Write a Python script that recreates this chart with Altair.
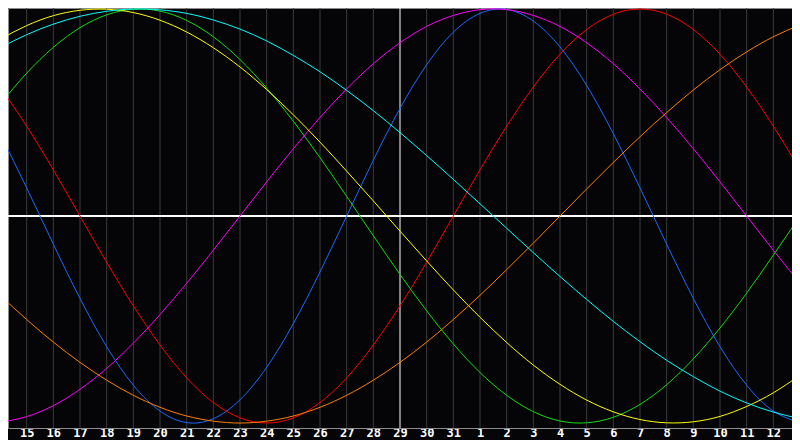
import altair as alt
import pandas as pd

# day index across the window (0 = left edge, 30 = right edge)
days = list(range(31))

# tick labels shown at day index 1..29
tick_labels = ["15", "16", "17", "18", "19", "20", "21", "22", "23", "24",
               "25", "26", "27", "28", "29", "30", "31", "1", "2", "3",
               "4", "5", "6", "7", "8", "9", "10", "11", "12"]

# cycle values (percent, -100..100), one per day index
physical = [39.8, 13.6, -13.6, -39.8, -63.1, -81.7, -94.2, -99.8, -97.9, -88.8,
            -73.1, -52.0, -27.0, 0.0, 27.0, 52.0, 73.1, 88.8, 97.9, 99.8,
            94.2, 81.7, 63.1, 39.8, 13.6, -13.6, -39.8, -63.1, -81.7, -94.2, -99.8]
emotional = [62.3, 43.4, 22.3, 0.0, -22.3, -43.4, -62.3, -78.2, -90.1, -97.5,
             -100.0, -97.5, -90.1, -78.2, -62.3, -43.4, -22.3, 0.0, 22.3, 43.4,
             62.3, 78.2, 90.1, 97.5, 100.0, 97.5, 90.1, 78.2, 62.3, 43.4, 22.3]
intellectual = [54.1, 69.0, 81.5, 91.0, 97.2, 99.9, 99.0, 94.5, 86.6, 75.6,
                61.8, 45.8, 28.2, 9.5, -9.5, -28.2, -45.8, -61.8, -75.6, -86.6,
                -94.5, -99.0, -99.9, -97.2, -91.0, -81.5, -69.0, -54.1, -37.2, -18.9, 0.0]
intuitive = [-99.7, -96.9, -91.6, -83.7, -73.6, -61.4, -47.6, -32.5, -16.5, 0.0,
             16.5, 32.5, 47.6, 61.4, 73.6, 83.7, 91.6, 96.9, 99.7, 99.7,
             96.9, 91.6, 83.7, 73.6, 61.4, 47.6, 32.5, 16.5, 0.0, -16.5, -32.5]
aesthetic = [85.4, 92.0, 96.8, 99.4, 99.9, 98.3, 94.6, 88.9, 81.3, 72.0,
             61.1, 48.9, 35.7, 21.7, 7.3, -7.3, -21.7, -35.7, -48.9, -61.1,
             -72.0, -81.3, -88.9, -94.6, -98.3, -99.9, -99.4, -96.8, -92.0, -85.4, -76.9]
awareness = [-38.3, -50.0, -60.9, -70.7, -79.3, -86.6, -92.4, -96.6, -99.1, -100.0,
             -99.1, -96.6, -92.4, -86.6, -79.3, -70.7, -60.9, -50.0, -38.3, -25.9,
             -13.1, 0.0, 13.1, 25.9, 38.3, 50.0, 60.9, 70.7, 79.3, 86.6, 92.4]
spiritual = [81.3, 87.6, 92.7, 96.5, 98.9, 100.0, 99.6, 97.9, 94.7, 90.3,
             84.6, 77.6, 69.7, 60.7, 50.9, 40.3, 29.2, 17.7, 5.9, -5.9,
             -17.7, -29.2, -40.3, -50.9, -60.7, -69.7, -77.6, -84.6, -90.3, -94.7, -97.9]

series_names = ["physical", "emotional", "intellectual", "intuitive",
                "aesthetic", "awareness", "spiritual"]
series_values = [physical, emotional, intellectual, intuitive,
                 aesthetic, awareness, spiritual]
series_colors = ["#1a6cff", "#ff0000", "#11dd11", "#ff00ff",
                 "#ffff00", "#ff8000", "#00ffff"]

rows = []
for name, vals in zip(series_names, series_values):
    for d, v in zip(days, vals):
        rows.append({"day": d, "value": v, "cycle": name})
df = pd.DataFrame(rows)

grid_days = list(range(1, 30))
center_day = 15
grid_df = pd.DataFrame({"day": grid_days})

label_expr = "[" + ",".join("'%s'" % t for t in tick_labels) + "][datum.value - 1]"

x_enc = alt.X(
    "day:Q",
    scale=alt.Scale(domain=[0.3, 29.7], nice=False, zero=False),
    axis=alt.Axis(
        values=grid_days, labelExpr=label_expr, title=None, grid=False,
        ticks=False, domainColor="#8c8c8c", domainWidth=1,
        labelColor="#ffffff", labelFont="DejaVu Sans Mono",
        labelFontWeight="bold", labelFontSize=12, labelPadding=8,
        labelBaseline="alphabetic", labelFlush=False, labelOverlap=False,
    ),
)
y_scale = alt.Scale(domain=[-102.4, 100.5], nice=False, zero=False)

grid = alt.Chart(grid_df).mark_rule(strokeWidth=1).encode(
    x=x_enc,
    color=alt.condition(
        alt.datum.day == center_day, alt.value("#ffffff"), alt.value("#3c3c3c")
    ),
)

hline = alt.Chart(grid_df).mark_rule(color="#ffffff", strokeWidth=1).encode(
    y=alt.datum(0, scale=y_scale, axis=None)
)

lines = alt.Chart(df).mark_line(strokeWidth=1, interpolate="natural", clip=True).encode(
    x=x_enc,
    y=alt.Y("value:Q", scale=y_scale, axis=None),
    color=alt.Color("cycle:N", scale=alt.Scale(domain=series_names, range=series_colors),
                    legend=None),
    detail="cycle:N",
)

chart = alt.layer(grid, hline, lines).properties(
    width=784, height=420,
    autosize=alt.AutoSizeParams(type="none"),
    padding={"left": 0, "top": 0, "right": 0, "bottom": 12},
    background="#050407",
).configure_view(stroke="#8c8c8c", strokeWidth=1)

chart.save("out.html", embed_options={"renderer": "svg", "actions": False})
